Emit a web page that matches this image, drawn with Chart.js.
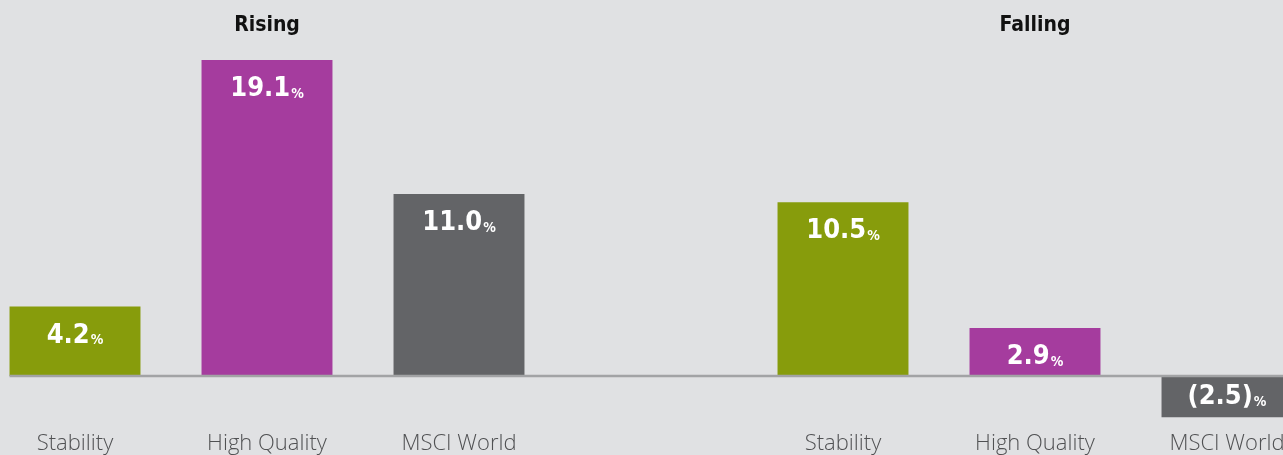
<!DOCTYPE html>
<html>
<head>
<meta charset="utf-8">
<script src="https://cdn.jsdelivr.net/npm/chart.js@4"></script>
<style>
  html, body { margin: 0; padding: 0; background: #e0e1e3; }
  #wrap { position: relative; width: 1283px; height: 455px; overflow: hidden; background: #e0e1e3; }
  #chart { position: absolute; left: -21px; top: 0; }
</style>
</head>
<body>
<div id="wrap"><canvas id="chart" width="1344" height="455"></canvas></div>
<script>
// categories: 3 bars per group, empty slot between the groups
const categories = ['Stability', 'High Quality', 'MSCI World', '', 'Stability', 'High Quality', 'MSCI World'];
const values = [4.2, 19.1, 11.0, null, 10.5, 2.9, -2.5];
const groupTitles = ['Rising', 'Falling'];
const groupCenters = [1, 5]; // index of the category each title sits over

const colors = ['#879c0c', '#a53c9e', '#636467', '#000', '#879c0c', '#a53c9e', '#636467'];
const valueFont = "'DejaVu Sans Condensed', 'DejaVu Sans', sans-serif";

function fmt(v) {
  const s = Math.abs(v).toFixed(1);
  return v < 0 ? '(' + s + ')' : s;
}

const labelsPlugin = {
  id: 'labels',
  afterDatasetsDraw(chart) {
    const ctx = chart.ctx;
    const y = chart.scales.y;
    const x = chart.scales.x;
    const meta = chart.getDatasetMeta(0);
    const zero = y.getPixelForValue(0);

    // baseline
    ctx.save();
    ctx.strokeStyle = '#a2a3a5';
    ctx.lineWidth = 2.5;
    ctx.beginPath();
    ctx.moveTo(meta.data[0].x - meta.data[0].width / 2, zero);
    ctx.lineTo(chart.width, zero);
    ctx.stroke();

    // value labels
    ctx.fillStyle = '#ffffff';
    ctx.textBaseline = 'middle';
    ctx.textAlign = 'left';
    values.forEach((v, i) => {
      if (v === null) return;
      const bar = meta.data[i];
      const main = fmt(v);
      ctx.font = 'bold 27px ' + valueFont;
      const w1 = ctx.measureText(main).width;
      ctx.font = 'bold 14px ' + valueFont;
      const w2 = ctx.measureText('%').width;
      const left = bar.x - (w1 + w2 + 1) / 2;
      const ty = v >= 0 ? bar.y + 29 : zero + 21;
      ctx.font = 'bold 27px ' + valueFont;
      ctx.fillText(main, left, ty);
      ctx.font = 'bold 14px ' + valueFont;
      ctx.fillText('%', left + w1 + 1, ty + 5);
    });

    // category labels
    ctx.fillStyle = '#505153';
    ctx.textAlign = 'center';
    ctx.font = "300 22px 'Open Sans', sans-serif";
    categories.forEach((c, i) => {
      if (!c) return;
      ctx.fillText(c, x.getPixelForValue(i), 444);
    });

    // group titles
    ctx.fillStyle = '#111111';
    ctx.font = 'bold 21px ' + valueFont;
    groupTitles.forEach((t, i) => {
      ctx.fillText(t, x.getPixelForValue(groupCenters[i]), 26);
    });
    ctx.restore();
  }
};

new Chart(document.getElementById('chart'), {
  type: 'bar',
  data: {
    labels: categories,
    datasets: [{
      data: values,
      backgroundColor: colors,
      borderWidth: 0,
      barPercentage: 0.682,
      categoryPercentage: 1
    }]
  },
  options: {
    responsive: false,
    animation: false,
    devicePixelRatio: 1,
    layout: { padding: 0 },
    plugins: { legend: { display: false }, tooltip: { enabled: false } },
    scales: {
      x: { display: false },
      y: { display: false, min: -4.776, max: 22.73 }
    }
  },
  plugins: [labelsPlugin]
});
</script>
</body>
</html>
